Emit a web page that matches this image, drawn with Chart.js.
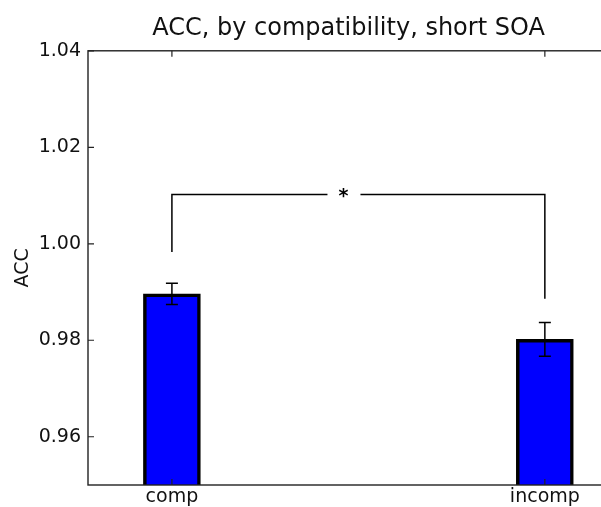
<!DOCTYPE html>
<html>
<head>
<meta charset="utf-8">
<script src="https://cdn.jsdelivr.net/npm/chart.js@4"></script>
<style>
    html, body { margin: 0; padding: 0; background: #fff; overflow: hidden; }
    #wrap { width: 601px; height: 507px; overflow: hidden; }
</style>
</head>
<body>
<div id="wrap"><canvas id="chart" width="620" height="507"></canvas></div>
<script>
// data
const categories = ['comp', 'incomp'];
const barX = [0, 1];
const accMeans = [0.9896, 0.9802];
const accErrors = [0.0022, 0.0035];
const yTicks = [0.96, 0.98, 1.00, 1.02, 1.04];

// significance bracket
const sigLevel = 1.0102;
const sigEnds = [0.9983, 0.9886];
const sigLabel = '*';
const sigLabelX = 0.46;

const FONT = 'DejaVu Sans';
const INK = '#111';

// error bars, bracket, box frame and inward ticks
const decorations = {
    id: 'decorations',
    afterDatasetsDraw(chart) {
        const { ctx, chartArea: a, scales: { x, y } } = chart;
        ctx.save();
        ctx.strokeStyle = '#000';
        ctx.lineWidth = 1.5;

        barX.forEach((v, i) => {
            const px = x.getPixelForValue(v);
            const top = y.getPixelForValue(accMeans[i] + accErrors[i]);
            const bot = y.getPixelForValue(accMeans[i] - accErrors[i]);
            ctx.beginPath();
            ctx.moveTo(px, top); ctx.lineTo(px, bot);
            ctx.moveTo(px - 6, top); ctx.lineTo(px + 6, top);
            ctx.moveTo(px - 6, bot); ctx.lineTo(px + 6, bot);
            ctx.stroke();
        });

        const x0 = x.getPixelForValue(barX[0]);
        const x1 = x.getPixelForValue(barX[1]);
        const ly = y.getPixelForValue(sigLevel);
        ctx.beginPath();
        ctx.moveTo(x0, y.getPixelForValue(sigEnds[0]));
        ctx.lineTo(x0, ly);
        ctx.lineTo(x1, ly);
        ctx.lineTo(x1, y.getPixelForValue(sigEnds[1]));
        ctx.stroke();

        const sx = x.getPixelForValue(sigLabelX);
        ctx.fillStyle = '#fff';
        ctx.fillRect(sx - 16, ly - 8, 33, 16);
        ctx.fillStyle = '#000';
        ctx.font = 'bold 19px "' + FONT + '"';
        ctx.textAlign = 'center';
        ctx.textBaseline = 'alphabetic';
        ctx.fillText(sigLabel, sx, ly + 7.5);

        // frame
        ctx.strokeStyle = '#222';
        ctx.lineWidth = 1.4;
        ctx.strokeRect(a.left, a.top, a.right - a.left, a.bottom - a.top);

        // ticks pointing inward
        const tl = 6;
        ctx.lineWidth = 1.2;
        ctx.beginPath();
        yTicks.forEach(v => {
            const py = y.getPixelForValue(v);
            ctx.moveTo(a.left, py); ctx.lineTo(a.left + tl, py);
            ctx.moveTo(a.right, py); ctx.lineTo(a.right - tl, py);
        });
        barX.forEach(v => {
            const px = x.getPixelForValue(v);
            ctx.moveTo(px, a.bottom); ctx.lineTo(px, a.bottom - tl);
            ctx.moveTo(px, a.top); ctx.lineTo(px, a.top + tl);
        });
        ctx.stroke();
        ctx.restore();
    }
};

new Chart(document.getElementById('chart'), {
    type: 'bar',
    data: {
        datasets: [{
            data: barX.map((v, i) => ({ x: v, y: accMeans[i] })),
            backgroundColor: '#0000ff',
            borderColor: '#000',
            borderWidth: 3.5,
            barThickness: 57
        }]
    },
    options: {
        responsive: false,
        animation: false,
        layout: { padding: { left: 0, right: 11, top: 0, bottom: 0 } },
        plugins: {
            legend: { display: false },
            tooltip: { enabled: false },
            title: {
                display: true,
                text: 'ACC, by compatibility, short SOA',
                fullSize: false,
                color: INK,
                font: { family: FONT, size: 24, weight: 'normal' },
                padding: { top: 14, bottom: 8 }
            }
        },
        scales: {
            x: {
                type: 'linear',
                min: -0.225,
                max: 1.172,
                offset: false,
                grid: { display: false, drawTicks: false },
                border: { display: false },
                afterBuildTicks: s => { s.ticks = barX.map(v => ({ value: v })); },
                ticks: {
                    callback: v => categories[barX.indexOf(v)],
                    color: INK,
                    font: { family: FONT, size: 19 },
                    padding: 1,
                    maxRotation: 0,
                    autoSkip: false
                },
                afterFit: s => { s.height = 22; }
            },
            y: {
                min: 0.95,
                max: 1.04,
                grid: { display: false, drawTicks: false },
                border: { display: false },
                afterBuildTicks: s => { s.ticks = yTicks.map(v => ({ value: v })); },
                ticks: {
                    callback: v => v.toFixed(2),
                    color: INK,
                    font: { family: FONT, size: 19 },
                    padding: 7
                },
                title: {
                    display: true,
                    text: 'ACC',
                    color: INK,
                    font: { family: FONT, size: 19 },
                    padding: { top: 12, bottom: 0 }
                },
                afterFit: s => { s.width = 88; }
            }
        }
    },
    plugins: [decorations]
});
</script>
</body>
</html>
